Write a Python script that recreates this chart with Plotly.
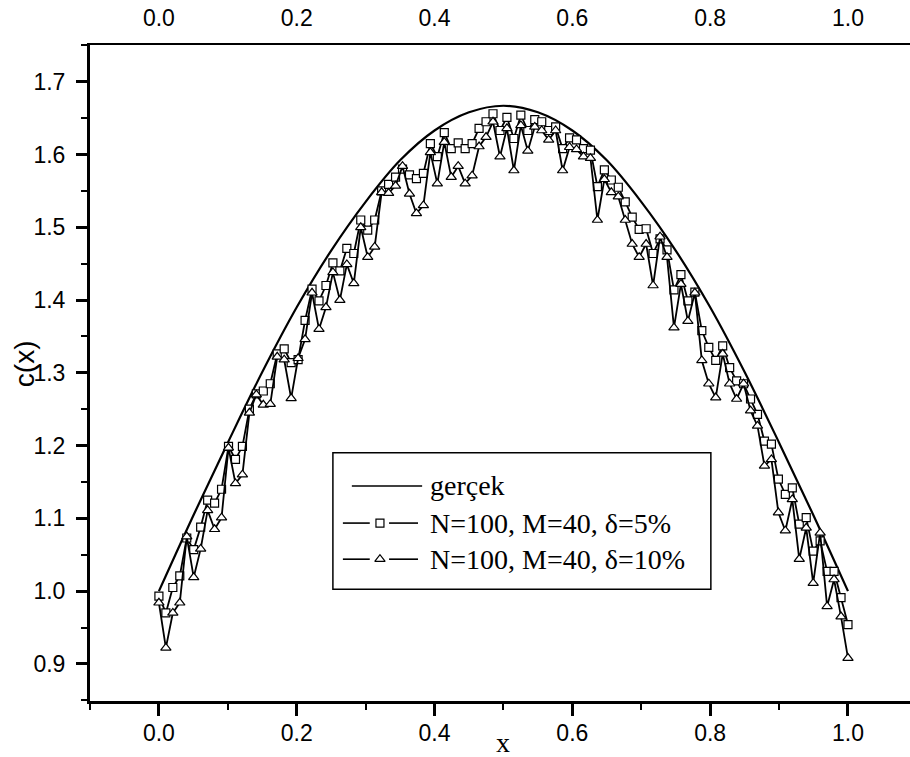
import plotly.graph_objects as go
import numpy as np

# sample grid: N=100 points on [0, 1]
x_grid = np.linspace(0.0, 1.0, 100)

# exact solution ("gerçek"), every 0.05
x_true = [0.0, 0.05, 0.1, 0.15, 0.2, 0.25, 0.3, 0.35, 0.4, 0.45, 0.5,
          0.55, 0.6, 0.65, 0.7, 0.75, 0.8, 0.85, 0.9, 0.95, 1.0]
c_true = [1.000, 1.104, 1.204, 1.301, 1.390, 1.468, 1.535, 1.592, 1.633, 1.658, 1.667,
          1.658, 1.633, 1.592, 1.535, 1.468, 1.390, 1.301, 1.204, 1.104, 1.000]

# reconstruction with 5% noise (squares)
c_delta5 = [
    0.993, 0.970, 1.005, 1.021, 1.073, 1.057, 1.088, 1.125, 1.121, 1.140,
    1.199, 1.181, 1.199, 1.250, 1.271, 1.275, 1.285, 1.326, 1.333, 1.314,
    1.318, 1.372, 1.415, 1.399, 1.420, 1.451, 1.440, 1.471, 1.464, 1.510,
    1.496, 1.510, 1.550, 1.559, 1.569, 1.580, 1.572, 1.567, 1.574, 1.615,
    1.597, 1.630, 1.608, 1.616, 1.608, 1.615, 1.636, 1.645, 1.656, 1.633,
    1.651, 1.622, 1.654, 1.633, 1.648, 1.645, 1.633, 1.638, 1.608, 1.623,
    1.620, 1.608, 1.606, 1.556, 1.579, 1.565, 1.555, 1.535, 1.514, 1.497,
    1.498, 1.464, 1.484, 1.469, 1.414, 1.435, 1.399, 1.411, 1.358, 1.335,
    1.317, 1.337, 1.307, 1.289, 1.285, 1.264, 1.243, 1.206, 1.202, 1.154,
    1.133, 1.142, 1.092, 1.101, 1.055, 1.069, 1.027, 1.027, 0.991, 0.954,
]

# reconstruction with 10% noise (triangles)
c_delta10 = [
    0.984, 0.922, 0.970, 0.984, 1.075, 1.019, 1.058, 1.111, 1.085, 1.101,
    1.197, 1.148, 1.160, 1.245, 1.270, 1.256, 1.257, 1.322, 1.318, 1.265,
    1.320, 1.346, 1.410, 1.360, 1.390, 1.438, 1.400, 1.449, 1.423, 1.500,
    1.459, 1.473, 1.548, 1.547, 1.557, 1.584, 1.546, 1.519, 1.530, 1.603,
    1.560, 1.617, 1.569, 1.584, 1.560, 1.571, 1.611, 1.624, 1.645, 1.597,
    1.636, 1.578, 1.640, 1.605, 1.638, 1.633, 1.620, 1.633, 1.578, 1.610,
    1.607, 1.597, 1.595, 1.510, 1.566, 1.548, 1.542, 1.510, 1.477, 1.459,
    1.477, 1.420, 1.487, 1.459, 1.362, 1.422, 1.371, 1.410, 1.317, 1.285,
    1.266, 1.326, 1.285, 1.264, 1.285, 1.248, 1.227, 1.172, 1.181, 1.108,
    1.083, 1.126, 1.044, 1.087, 1.011, 1.080, 0.979, 1.016, 0.965, 0.908,
]

x_ticks = [0.0, 0.2, 0.4, 0.6, 0.8, 1.0]
x_ticktext = ["0.0", "0.2", "0.4", "0.6", "0.8", "1.0"]
x_minor = [-0.1, 0.1, 0.3, 0.5, 0.7, 0.9]
y_ticks = [0.9, 1.0, 1.1, 1.2, 1.3, 1.4, 1.5, 1.6, 1.7]
y_ticktext = ["0.9", "1.0", "1.1", "1.2", "1.3", "1.4", "1.5", "1.6", "1.7"]
y_minor = [0.85, 0.95, 1.05, 1.15, 1.25, 1.35, 1.45, 1.55, 1.65, 1.75]

legend_labels = ["gerçek", "N=100, M=40, δ=5%", "N=100, M=40, δ=10%"]

SANS = "Liberation Sans, Arial, sans-serif"
SERIF = "Liberation Serif, Times New Roman, serif"

square_marker = dict(symbol="square", size=8, color="white", line=dict(color="black", width=1.2))
triangle_marker = dict(symbol="triangle-up", size=9, color="white", line=dict(color="black", width=1.2))

fig = go.Figure()

fig.add_trace(go.Scatter(
    x=x_true, y=c_true, mode="lines",
    line=dict(color="black", width=2.2, shape="spline"),
    showlegend=False, hoverinfo="skip",
))

fig.add_trace(go.Scatter(
    x=x_grid, y=c_delta5, mode="lines+markers",
    line=dict(color="black", width=1.8),
    marker=square_marker,
    showlegend=False,
))

fig.add_trace(go.Scatter(
    x=x_grid, y=c_delta10, mode="lines+markers",
    line=dict(color="black", width=1.8),
    marker=triangle_marker,
    showlegend=False,
))

# empty trace so the top axis is drawn
fig.add_trace(go.Scatter(x=[], y=[], xaxis="x2", yaxis="y", showlegend=False, hoverinfo="skip"))

# hand-drawn legend box, in data coordinates
box_x0, box_x1, box_y0, box_y1 = 0.2525, 0.801, 1.0026, 1.190
row_y = [1.1445, 1.0935, 1.0439]
text_x = 0.3904
mark_x = 0.3208

shapes = [dict(type="rect", xref="x", yref="y", x0=box_x0, x1=box_x1, y0=box_y0, y1=box_y1,
               line=dict(color="black", width=1.5), layer="below")]
shapes.append(dict(type="line", xref="x", yref="y", x0=0.280, x1=0.382, y0=row_y[0], y1=row_y[0],
                   line=dict(color="black", width=1.6), layer="below"))
for ry in row_y[1:]:
    for sx0, sx1 in [(0.267, 0.306), (0.334, 0.376)]:
        shapes.append(dict(type="line", xref="x", yref="y", x0=sx0, x1=sx1, y0=ry, y1=ry,
                           line=dict(color="black", width=1.6), layer="below"))

fig.add_trace(go.Scatter(x=[mark_x], y=[row_y[1]], mode="markers", marker=square_marker,
                         showlegend=False, hoverinfo="skip"))
fig.add_trace(go.Scatter(x=[mark_x], y=[row_y[2]], mode="markers", marker=triangle_marker,
                         showlegend=False, hoverinfo="skip"))

annotations = []
for label, ry in zip(legend_labels, row_y):
    annotations.append(dict(x=text_x, y=ry, xref="x", yref="y", text=label, showarrow=False,
                            xanchor="left", yanchor="middle",
                            font=dict(family=SERIF, size=28, color="black")))

# axis titles
annotations.append(dict(x=0.5, y=-0.063, xref="x", yref="paper", text="x", showarrow=False,
                        xanchor="center", yanchor="middle",
                        font=dict(family=SERIF, size=28, color="black")))
annotations.append(dict(x=-0.0801, y=0.514, xref="paper", yref="paper", text="c(x)", showarrow=False,
                        textangle=-90, xanchor="center", yanchor="middle",
                        font=dict(family=SANS, size=28, color="black")))

fig.update_layout(
    width=910,
    height=757,
    margin=dict(l=90, r=0, t=45, b=56, pad=0),
    paper_bgcolor="white",
    plot_bgcolor="white",
    showlegend=False,
    shapes=shapes,
    annotations=annotations,
    xaxis=dict(
        range=[-0.1, 1.09],
        tickvals=x_ticks, ticktext=x_ticktext,
        ticks="outside", ticklen=12, tickwidth=2.5, tickcolor="black",
        ticklabelstandoff=-3,
        minor=dict(tickmode="array", tickvals=x_minor, ticks="outside",
                   ticklen=6, tickwidth=2, tickcolor="black"),
        showline=True, linecolor="black", linewidth=3,
        showgrid=False, zeroline=False, automargin=False,
        tickfont=dict(family=SANS, size=23, color="black"),
    ),
    xaxis2=dict(
        overlaying="x", side="top", anchor="y",
        range=[-0.1, 1.09],
        tickvals=x_ticks, ticktext=x_ticktext,
        ticks="", ticklabelstandoff=8,
        showline=True, linecolor="black", linewidth=2,
        showgrid=False, zeroline=False, automargin=False,
        tickfont=dict(family=SANS, size=23, color="black"),
    ),
    yaxis=dict(
        range=[0.849, 1.7505],
        tickvals=y_ticks, ticktext=y_ticktext,
        ticks="outside", ticklen=11, tickwidth=2.5, tickcolor="black",
        ticklabelstandoff=6,
        minor=dict(tickmode="array", tickvals=y_minor, ticks="outside",
                   ticklen=6, tickwidth=2, tickcolor="black"),
        showline=True, linecolor="black", linewidth=3,
        showgrid=False, zeroline=False, automargin=False,
        tickfont=dict(family=SANS, size=23, color="black"),
    ),
)

# drop the browser's default body margin so the figure fills the window
fig.write_html("out.html", config={"displayModeBar": False},
               post_script="document.body.style.margin = '0px';")
